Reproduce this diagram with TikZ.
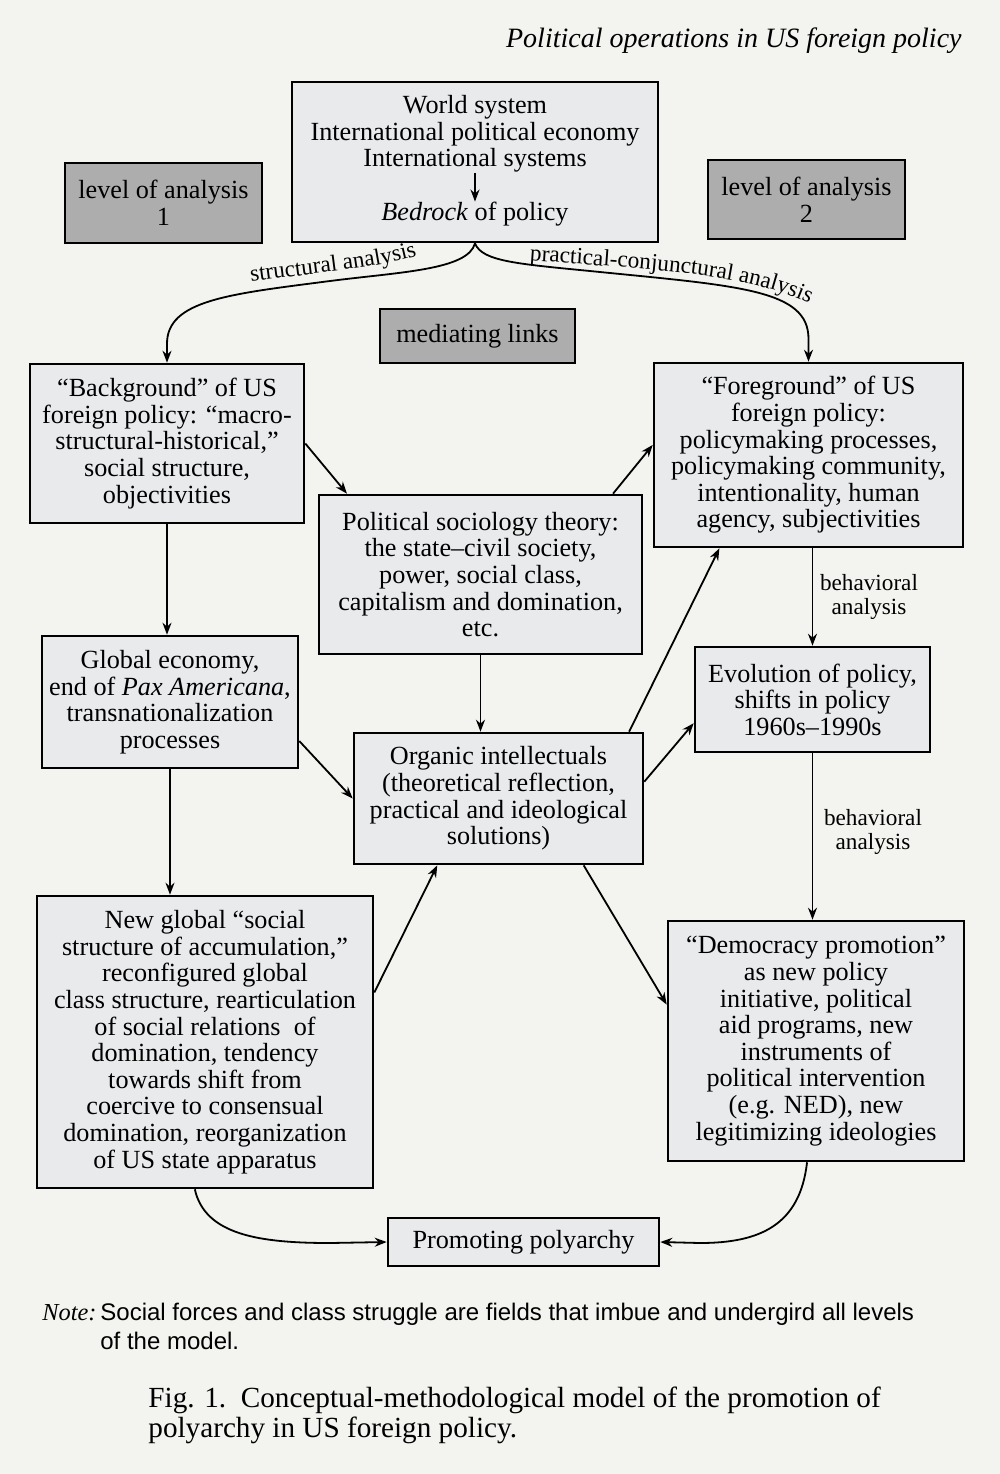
\documentclass[tikz,border=0pt]{standalone}
\usepackage{fontspec}
\setmainfont{Liberation Serif}
\setsansfont{Liberation Sans}
\usetikzlibrary{calc,arrows.meta,decorations.text}
\definecolor{paper}{HTML}{F3F4EF}
\definecolor{boxfill}{HTML}{E8EAEC}
\definecolor{levfill}{HTML}{ADADAD}
\newcommand\bxfont{\fontsize{13.1}{13.3}\selectfont}
\newcommand\lbfont{\fontsize{11.6}{12.2}\selectfont}
\begin{document}
\begin{tikzpicture}[x=0.5pt,y=-0.5pt,
  box/.style={draw=black, line width=1.3pt, fill=boxfill, align=center, inner sep=0pt, font=\bxfont},
  levbox/.style={box, fill=levfill},
  plain/.style={align=center, inner sep=0pt, font=\bxfont},
  arr/.style={-{Stealth[length=6pt,width=4.5pt]}, line width=0.9pt},
  lbl/.style={font=\lbfont, align=center, inner sep=0pt}]
\fill[paper] (0,0) rectangle (1000,1474);
\useasboundingbox (0,0) rectangle (1000,1474);

% header
\node[anchor=base east, inner sep=0pt, font=\fontsize{14}{16}\selectfont\itshape] (head) at (962,47) {Political operations in US foreign policy};

% top box
\node[box, minimum width=183pt, minimum height=80pt] (top) at (475,162) {};
\node[plain] (toplines) at (475,134) {World system\\International political economy\\International systems};
\node[plain] (bedrock) at (475,214) {\textit{Bedrock} of policy};
\draw[arr, line width=0.8pt] (toplines.south) -- (bedrock.north);

% level boxes
\node[levbox, minimum width=98.5pt, minimum height=40pt] (lev1) at (163.5,203) {level of analysis\\1};
\node[levbox, minimum width=98.5pt, minimum height=39.5pt] (lev2) at (806.5,199.5) {level of analysis\\2};
\node[levbox, minimum width=97.5pt, minimum height=27pt] (med) at (477.5,336) {mediating links};

% main boxes
\node[box, minimum width=137pt, minimum height=79.5pt] (bg) at (167,443.5) {“Background” of US\\foreign policy: “macro-\\structural-historical,”\\social structure,\\objectivities};
\node[box, minimum width=161.5pt, minimum height=79.5pt] (ps) at (480.5,574.5) {Political sociology theory:\\the state–civil society,\\power, social class,\\capitalism and domination,\\etc.};
\node[box, minimum width=154.5pt, minimum height=92pt] (fg) at (808.5,455) {“Foreground” of US\\foreign policy:\\policymaking processes,\\policymaking community,\\intentionality, human\\agency, subjectivities};
\node[box, minimum width=128pt, minimum height=66pt] (ge) at (170,702) {Global economy,\\end of \textit{Pax Americana},\\transnationalization\\processes};
\node[box, minimum width=144.5pt, minimum height=65.5pt] (oi) at (498.5,798.5) {Organic intellectuals\\(theoretical reflection,\\practical and ideological\\solutions)};
\node[box, minimum width=117.5pt, minimum height=52.5pt] (ev) at (812.5,699.5) {Evolution of policy,\\shifts in policy\\1960s–1990s};
\node[box, minimum width=168pt, minimum height=146pt] (ng) at (205,1042) {New global “social\\structure of accumulation,”\\reconfigured global\\class structure, rearticulation\\of social relations\ \ of\\domination, tendency\\towards shift from\\coercive to consensual\\domination, reorganization\\of US state apparatus};
\node[box, minimum width=148pt, minimum height=120pt] (dp) at (816,1041) {“Democracy promotion”\\as new policy\\initiative, political\\aid programs, new\\instruments of\\political intervention\\(e.g. NED), new\\legitimizing ideologies};
\node[box, minimum width=135.5pt, minimum height=24pt] (pp) at (523.5,1242) {Promoting polyarchy};

% top split curves
\coordinate (lmid) at (330,281);
\coordinate (rmid) at (600,272);
\draw[arr] (top.south) .. controls (468,270) and (400,272) .. (lmid)
  .. controls (230,294) and (167,300) .. ($(bg.north)+(0,-19)$) -- (bg.north);
\draw[arr] (top.south) .. controls (482,262) and (520,264) .. (rmid)
  .. controls (740,286) and (808.5,290) .. ($(fg.north)+(0,-23)$) -- (fg.north);
\path[decorate, decoration={text along path, text align=center, text={|\lbfont|structural analysis}}]
  (244,283) .. controls (320,272) and (380,268) .. (424,254);
\path[decorate, decoration={text along path, text align=center, text={|\lbfont|practical-conjunctural analysis}}]
  (522,260) .. controls (640,269) and (752,272) .. (816,307);

% vertical flows
\draw[arr] (bg.south) -- (bg.south |- ge.north);
\draw[arr] (ge.south) -- (ge.south |- ng.north);
\draw[arr] (ps.south) -- (ps.south |- oi.north);
\draw[arr] (fg.south -| ev.north) -- (ev.north);
\draw[arr] (ev.south) -- (ev.south |- dp.north);
\node[lbl] (beh1) at (869,597) {behavioral\\analysis};
\node[lbl] (beh2) at (873,832) {behavioral\\analysis};

% diagonals
\draw[arr] (bg.east) -- ($(ps.north west)!0.09!(ps.north east)$);
\draw[arr] ($(ps.north west)!0.907!(ps.north east)$) -- ($(fg.north west)!0.446!(fg.south west)$);
\draw[arr] ($(ge.north east)!0.79!(ge.south east)$) -- (oi.west);
\draw[arr] ($(oi.north east)!0.374!(oi.south east)$) -- ($(ev.north west)!0.72!(ev.south west)$);
\draw[arr] ($(oi.north west)!0.948!(oi.north east)$) -- ($(fg.south west)!0.214!(fg.south east)$);
\draw[arr] ($(ng.north east)!0.332!(ng.south east)$) -- ($(oi.south west)!0.29!(oi.south east)$);
\draw[arr] ($(oi.south west)!0.792!(oi.south east)$) -- ($(dp.north west)!0.35!(dp.south west)$);

% bottom curves
\draw[arr] ($(ng.south west)!0.47!(ng.south east)$) .. controls (205,1235) and (260,1243) .. (330,1243) -- (pp.west);
\draw[arr] ($(dp.south west)!0.47!(dp.south east)$) .. controls (800,1225) and (760,1243) .. (700,1243) -- (pp.east);

% note and caption
\node[anchor=base west, inner sep=0pt, font=\fontsize{12.2}{14}\selectfont\itshape] (notehead) at (42,1320) {Note:};
\node[anchor=base west, inner sep=0pt, font=\sffamily\fontsize{12}{14}\selectfont] (note1) at (100,1320) {Social forces and class struggle are fields that imbue and undergird all levels};
\node[anchor=base west, inner sep=0pt, font=\sffamily\fontsize{12}{14}\selectfont] (note2) at (100,1349) {of the model.};
\node[anchor=base west, inner sep=0pt, font=\fontsize{14.6}{15}\selectfont] (cap1) at (148,1407) {Fig. 1.\ \ Conceptual-methodological model of the promotion of};
\node[anchor=base west, inner sep=0pt, font=\fontsize{14.6}{15}\selectfont] (cap2) at (148,1437) {polyarchy in US foreign policy.};
\end{tikzpicture}
\end{document}
